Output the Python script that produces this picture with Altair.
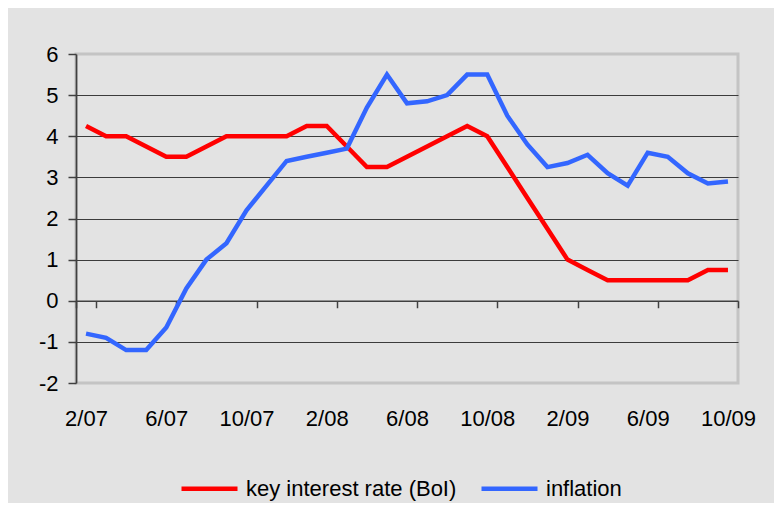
import altair as alt
import pandas as pd

months = ["2/07", "3/07", "4/07", "5/07", "6/07", "7/07", "8/07", "9/07", "10/07", "11/07", "12/07",
          "1/08", "2/08", "3/08", "4/08", "5/08", "6/08", "7/08", "8/08", "9/08", "10/08", "11/08", "12/08",
          "1/09", "2/09", "3/09", "4/09", "5/09", "6/09", "7/09", "8/09", "9/09", "10/09"]
key_rate = [4.25, 4.0, 4.0, 3.75, 3.5, 3.5, 3.75, 4.0, 4.0, 4.0, 4.0,
            4.25, 4.25, 3.75, 3.25, 3.25, 3.5, 3.75, 4.0, 4.25, 4.0, 3.25, 2.5,
            1.75, 1.0, 0.75, 0.5, 0.5, 0.5, 0.5, 0.5, 0.75, 0.75]
inflation = [-0.8, -0.9, -1.2, -1.2, -0.65, 0.3, 1.0, 1.4, 2.2, 2.8, 3.4,
             3.5, 3.6, 3.7, 4.7, 5.5, 4.8, 4.85, 5.0, 5.5, 5.5, 4.5, 3.8,
             3.25, 3.35, 3.55, 3.1, 2.8, 3.6, 3.5, 3.1, 2.85, 2.9]
series_names = ["key interest rate (BoI)", "inflation"]
series_colors = ["#ff0000", "#3366ff"]
x_labels = ["2/07", "6/07", "10/07", "2/08", "6/08", "10/08", "2/09", "6/09", "10/09"]
y_ticks = [-2, -1, 0, 1, 2, 3, 4, 5, 6]

rows = []
for m, v in zip(months, key_rate):
    rows.append({"month": m, "series": series_names[0], "value": v})
for m, v in zip(months, inflation):
    rows.append({"month": m, "series": series_names[1], "value": v})
df = pd.DataFrame(rows)

W, H = 662, 329
FONT = "Liberation Sans"
zero_offset = -H * (0 - (-2)) / 8.0

chart = alt.Chart(df).mark_line(strokeWidth=4.5, strokeJoin="miter").encode(
    x=alt.X("month:O", sort=months,
            scale=alt.Scale(type="band", paddingInner=0, paddingOuter=0),
            axis=alt.Axis(values=x_labels, title=None, labelAngle=0, tickBand="extent",
                          offset=zero_offset, domainColor="#404040", domainWidth=1.5,
                          tickColor="#404040", tickWidth=1.5, tickSize=7,
                          labelPadding=101, labelFont=FONT, labelFontSize=22,
                          labelColor="#000000", grid=False)),
    y=alt.Y("value:Q", scale=alt.Scale(domain=[-2, 6], nice=False, zero=False),
            axis=alt.Axis(values=y_ticks, title=None, domainColor="#404040", domainWidth=1.7,
                          tickColor="#404040", tickWidth=1.5, tickSize=8, labelPadding=10,
                          labelExpr="datum.value + ''",
                          labelFont=FONT, labelFontSize=22, labelColor="#000000",
                          grid=True, gridWidth=1,
                          gridColor={"condition": {"test": "datum.value == 6 || datum.value == -2 || datum.value == 0",
                                                   "value": "#c4c4c4"}, "value": "#3c3c3c"})),
    color=alt.Color("series:N", scale=alt.Scale(domain=series_names, range=series_colors),
                    legend=alt.Legend(title=None, orient="none", direction="horizontal",
                                      legendX=103, legendY=404, symbolType="stroke",
                                      symbolSize=3136, symbolStrokeWidth=4.5,
                                      labelFont=FONT, labelFontSize=22, labelColor="#000000",
                                      labelLimit=500,
                                      labelOffset=6, columnPadding=15, padding=0)),
).properties(
    width=W, height=H,
    background="#e3e3e3",
    padding={"left": 68, "top": 46, "right": 36, "bottom": 120},
    autosize=alt.AutoSizeParams(type="none"),
).configure_view(
    stroke="#c4c4c4", strokeWidth=3, fill="#e3e3e3"
)

chart.save("out.html", embed_options={"renderer": "svg", "actions": False})
